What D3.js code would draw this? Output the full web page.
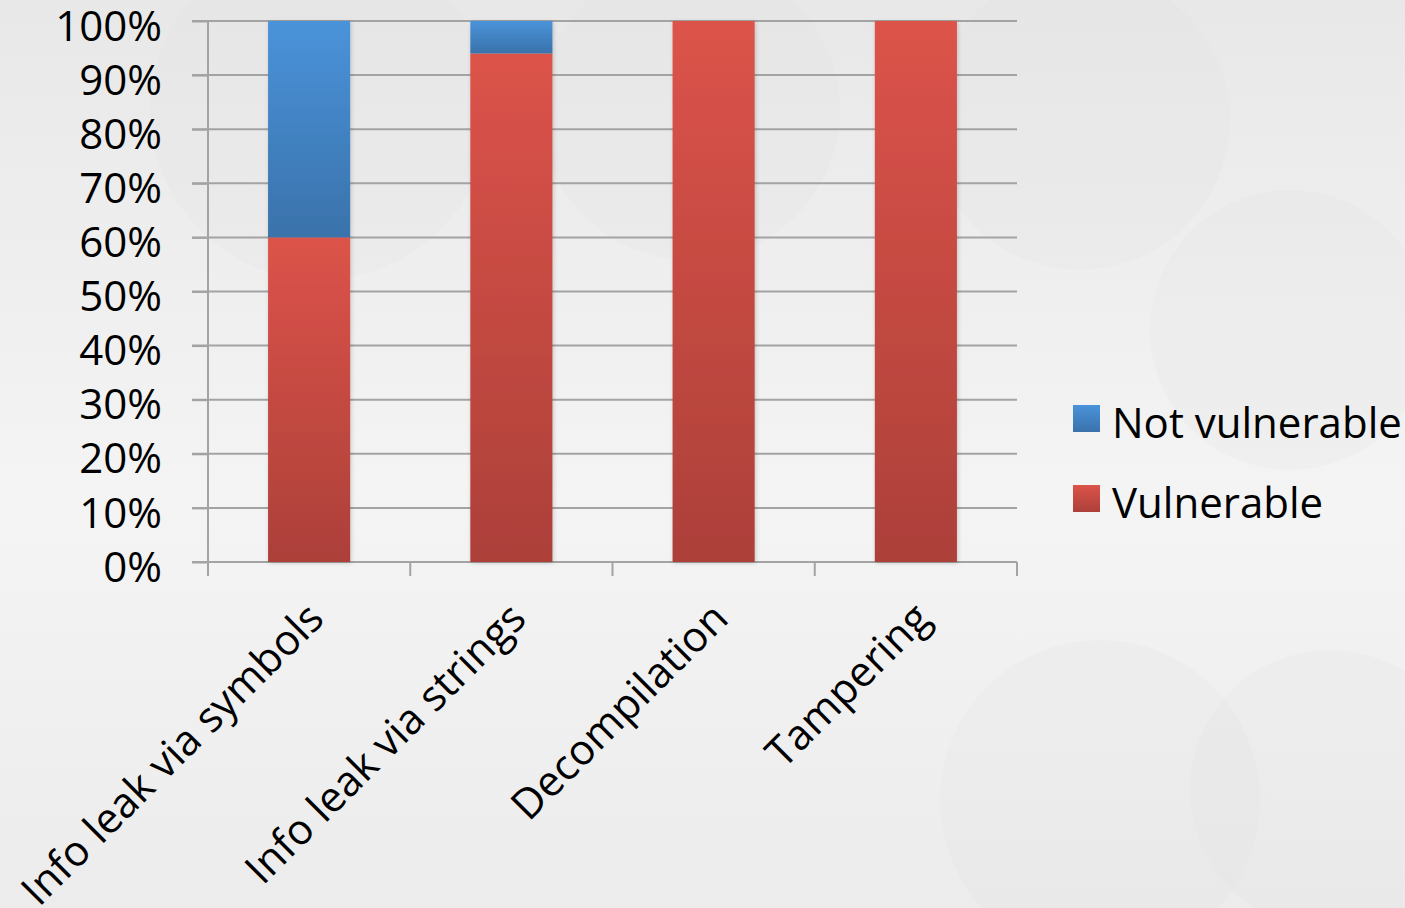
<!DOCTYPE html>
<html><head><meta charset="utf-8">
<script src="https://cdn.jsdelivr.net/npm/d3@7"></script>
<style>html,body{margin:0;padding:0;overflow:hidden;background:#eeeeee}</style>
</head><body>
<svg id="c" width="1405" height="908"></svg>
<script>
const categories = ["Info leak via symbols", "Info leak via strings", "Decompilation", "Tampering"];
const vulnerable = [60, 94, 100, 100];
const notVulnerable = [40, 6, 0, 0];
const seriesNames = ["Vulnerable", "Not vulnerable"];
const yTicks = [0,10,20,30,40,50,60,70,80,90,100];

const svg = d3.select("#c");
const W = 1405, H = 908;
const defs = svg.append("defs");

// background
const bg = defs.append("linearGradient").attr("id","bg").attr("x1",0).attr("y1",0).attr("x2",0).attr("y2",1);
bg.append("stop").attr("offset","0").attr("stop-color","#e8e8e8");
bg.append("stop").attr("offset","0.55").attr("stop-color","#f4f4f4");
bg.append("stop").attr("offset","1").attr("stop-color","#ececec");
svg.append("rect").attr("width",W).attr("height",H).attr("fill","url(#bg)");
const deco = [[320,110,170],[690,110,150],[1080,120,150],[1290,330,140],[1100,800,160],[1330,790,140]];
svg.append("g").selectAll("circle").data(deco).join("circle")
  .attr("cx",d=>d[0]).attr("cy",d=>d[1]).attr("r",d=>d[2])
  .attr("fill","#e2e2e2").attr("opacity",0.2);

function grad(id, top, bottom){
  const g = defs.append("linearGradient").attr("id",id).attr("x1",0).attr("y1",0).attr("x2",0).attr("y2",1);
  g.append("stop").attr("offset","0").attr("stop-color",top);
  g.append("stop").attr("offset","1").attr("stop-color",bottom);
}
grad("gBlue","#4a93da","#3a72ab");
grad("gRed","#dc534a","#ac4039");
const f = defs.append("filter").attr("id","sh").attr("x","-10%").attr("y","-5%").attr("width","130%").attr("height","115%");
f.append("feDropShadow").attr("dx",1).attr("dy",1).attr("stdDeviation",2).attr("flood-color","#000").attr("flood-opacity",0.18);

const x0 = 208, x1 = 1017, yTop = 21, yBot = 562;
const x = d3.scaleBand().domain(categories).range([x0,x1]).paddingInner(0.594).paddingOuter(0.297);
const y = d3.scaleLinear().domain([0,100]).range([yBot,yTop]);

const font = "'Open Sans', sans-serif";
const fs = 42;
const gridColor = "#a3a3a3";

// gridlines
svg.append("g").selectAll("line").data(yTicks).join("line")
  .attr("x1",192).attr("x2",x1).attr("y1",d=>y(d)).attr("y2",d=>y(d))
  .attr("stroke",gridColor).attr("stroke-width",2);

// y axis
const ya = svg.append("g").attr("transform",`translate(${x0},0)`)
  .call(d3.axisLeft(y).tickValues(yTicks).tickFormat(d=>d+"%").tickSize(16).tickPadding(30));
ya.select(".domain").attr("stroke",gridColor).attr("stroke-width",2).attr("d",`M0,${yTop}V${yBot+14}`);
ya.selectAll(".tick line").attr("stroke",gridColor).attr("stroke-width",2);
ya.selectAll("text").attr("font-family",font).attr("font-size",fs).attr("fill","#000")
  .attr("dy","0.36em").attr("y",4);

// x axis
const bounds = d3.range(categories.length+1).map(i=>x0 + i*(x1-x0)/categories.length);
svg.append("g").selectAll("line").data(bounds).join("line")
  .attr("x1",d=>d).attr("x2",d=>d).attr("y1",yBot).attr("y2",yBot+14)
  .attr("stroke",gridColor).attr("stroke-width",2);

// bars
const stacked = categories.map((c,i)=>({c, v:vulnerable[i], n:notVulnerable[i]}));
const bars = svg.append("g").attr("filter","url(#sh)");
bars.selectAll("rect.v").data(stacked).join("rect").attr("class","v")
  .attr("x",d=>x(d.c)).attr("width",x.bandwidth())
  .attr("y",d=>y(d.v)).attr("height",d=>y(0)-y(d.v)).attr("fill","url(#gRed)");
bars.selectAll("rect.n").data(stacked.filter(d=>d.n>0)).join("rect").attr("class","n")
  .attr("x",d=>x(d.c)).attr("width",x.bandwidth())
  .attr("y",d=>y(d.v+d.n)).attr("height",d=>y(d.v)-y(d.v+d.n)).attr("fill","url(#gBlue)");

// x labels
svg.append("g").selectAll("text").data(categories).join("text")
  .attr("transform",d=>`translate(${x(d)+x.bandwidth()/2-4},${600}) rotate(-45)`)
  .attr("text-anchor","end").attr("dy","0.7em")
  .attr("font-family",font).attr("font-size",fs).attr("fill","#000")
  .text(d=>d);

// legend
const legend = [{name:"Not vulnerable", fill:"url(#gBlue)", y:405},{name:"Vulnerable", fill:"url(#gRed)", y:485}];
const lg = svg.append("g").selectAll("g").data(legend).join("g").attr("transform",d=>`translate(1073,${d.y})`);
lg.append("rect").attr("width",27).attr("height",27).attr("fill",d=>d.fill);
lg.append("text").attr("x",39).attr("y",33).attr("font-family",font).attr("font-size",fs).attr("fill","#000").text(d=>d.name);
</script>
</body></html>
